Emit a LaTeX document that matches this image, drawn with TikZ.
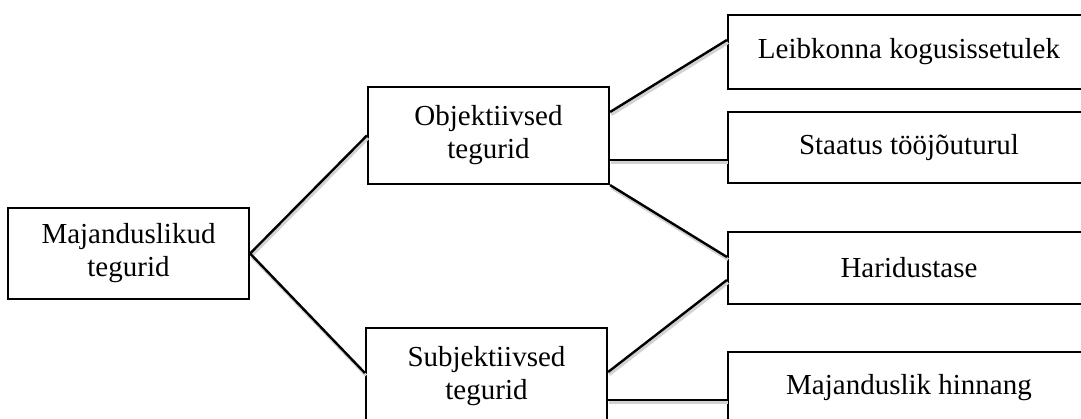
\documentclass[tikz,border=0pt]{standalone}
\usepackage{fontspec}
\setmainfont{Liberation Serif}
\usetikzlibrary{calc}

\tikzset{
  kast/.style={draw, line width=1.1pt, align=center, inner sep=0pt,
    font=\fontsize{14.5}{16.5}\selectfont},
  vkast/.style={kast, minimum width=120.5pt, minimum height=48.5pt},
  pkast/.style={kast, minimum width=181pt},
  joon/.style={line width=1.2pt,
    preaction={draw, gray!35, line width=1.5pt, transform canvas={shift={(0.6pt,-1.3pt)}}}}
}

\begin{document}
\begin{tikzpicture}[x=0.5pt, y=-0.5pt]
\useasboundingbox (0,0) rectangle (1081,418);
\clip (0,0) rectangle (1081,418);

\node[vkast, minimum height=45.5pt] (maj) at (128.5,253.5) {Majanduslikud\\tegurid};
\node[vkast] (obj) at (488.5,135.5) {Objektiivsed\\tegurid};
\node[vkast] (subj) at (486.5,376.5) {Subjektiivsed\\tegurid};

\node[pkast, minimum height=37pt] (leib) at (909,52) {Leibkonna kogusissetulek};
\node[pkast, minimum height=35.5pt] (staatus) at (909,147.5) {Staatus tööjõuturul};
\node[pkast, minimum height=36pt] (haridus) at (909,268) {Haridustase};
\node[pkast, minimum height=36pt] (hinnang) at (909,388) {Majanduslik hinnang};

\draw[joon] (maj.east) -- (obj.west);
\draw[joon] (maj.east) -- ($(subj.west)+(0,-3.5)$);
\draw[joon] ($(obj.east)+(0,-23.5)$) -- ($(leib.west)+(0,-12)$);
\draw[joon] ($(obj.east)+(0,24.5)$) coordinate (o2) -- (o2 -| staatus.west);
\draw[joon] (obj.south east) -- ($(haridus.west)+(0,-11)$);
\draw[joon] ($(subj.east)+(0,-4.5)$) -- ($(haridus.west)+(0,12)$);
\draw[joon] ($(subj.east)+(0,23.5)$) coordinate (s2) -- (s2 -| hinnang.west);
\end{tikzpicture}
\end{document}
